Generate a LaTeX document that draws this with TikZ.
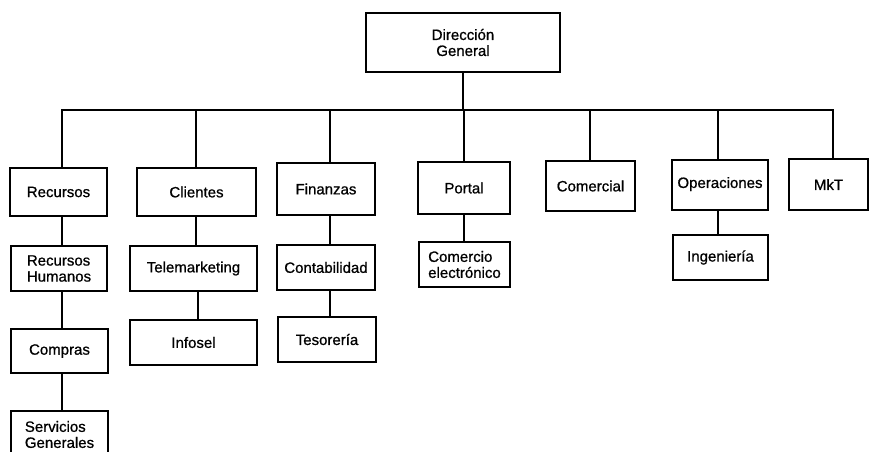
\documentclass[tikz,border=0pt]{standalone}
\usepackage{fontspec}
\setmainfont{Liberation Sans}[BoldFont=Liberation Sans,BoldFeatures={FakeBold=0.8}]
\begin{document}
\begin{tikzpicture}[x=1pt,y=-1pt,
  box/.style={draw,line width=2pt,inner sep=0pt,align=center,
    font=\fontsize{15}{16}\selectfont\bfseries},
  leftbox/.style={box,align=left},
  link/.style={line width=2pt}]
\useasboundingbox (0,0) rectangle (869,451);
\clip (0,0) rectangle (869,451);
% top
\node[box,minimum width=194,minimum height=59] (dg) at (463,42.5) {Dirección\\General};
% first level
\node[box,minimum width=97,minimum height=48]  (rec) at (58.5,192) {Recursos};
\node[box,minimum width=119,minimum height=48] (cli) at (196.5,192) {Clientes};
\node[box,minimum width=98,minimum height=52]  (fin) at (326,189) {Finanzas};
\node[box,minimum width=92,minimum height=52]  (por) at (464,188) {Portal};
\node[box,minimum width=89,minimum height=50]  (com) at (590.5,186) {Comercial};
\node[box,minimum width=96,minimum height=50]  (ope) at (720,185) {\raisebox{5pt}{Operaciones}};
\node[box,minimum width=79,minimum height=51]  (mkt) at (828.5,184.5) {MkT};
% second level
\node[leftbox,minimum width=96,minimum height=45]  (rh)  at (59,268.5) {Recursos\\Humanos};
\node[box,minimum width=127,minimum height=45] (tel) at (193.5,268.5) {Telemarketing};
\node[box,minimum width=98,minimum height=45]  (con) at (326,267.5) {Contabilidad};
\node[leftbox,minimum width=91,minimum height=45]  (cel) at (464.5,264.5) {Comercio\\electrónico};
\node[box,minimum width=95,minimum height=45]  (ing) at (720.5,257.5) {Ingeniería};
% third level
\node[box,minimum width=97,minimum height=44]  (cmp) at (59.5,351) {Compras};
\node[box,minimum width=127,minimum height=45] (inf) at (193.5,342.5) {Infosel};
\node[box,minimum width=98,minimum height=45]  (tes) at (327,339.5) {Tesorería};
% fourth level
\node[leftbox,minimum width=97,minimum height=47]  (ser) at (59.5,434.5) {Servicios\\Generales};
% bus
\coordinate (busL) at (62,110);
\coordinate (busR) at (833,110);
\draw[link,line cap=rect] (busL) -- (busR);
\draw[link] (dg.south) -- (dg.south |- busL);
\draw[link] ([xshift=3.5pt]rec.north) -- ([xshift=3.5pt]rec.north |- busL);
\draw[link] ([xshift=-0.5pt]cli.north) -- ([xshift=-0.5pt]cli.north |- busL);
\draw[link] ([xshift=4pt]fin.north) -- ([xshift=4pt]fin.north |- busL);
\draw[link] (por.north) -- (por.north |- busL);
\draw[link] ([xshift=-0.5pt]com.north) -- ([xshift=-0.5pt]com.north |- busL);
\draw[link] ([xshift=-2pt]ope.north) -- ([xshift=-2pt]ope.north |- busL);
\draw[link] ([xshift=4.5pt]mkt.north) -- ([xshift=4.5pt]mkt.north |- busL);
% sub-branches
\draw[link] ([xshift=3.5pt]rec.south) -- ([xshift=3.5pt]rec.south |- rh.north);
\draw[link] ([xshift=3pt]rh.south) -- ([xshift=3pt]rh.south |- cmp.north);
\draw[link] ([xshift=2.5pt]cmp.south) -- ([xshift=2.5pt]cmp.south |- ser.north);
\draw[link] ([xshift=-0.5pt]cli.south) -- ([xshift=-0.5pt]cli.south |- tel.north);
\draw[link] ([xshift=4.5pt]tel.south) -- ([xshift=4.5pt]tel.south |- inf.north);
\draw[link] ([xshift=4pt]fin.south) -- ([xshift=4pt]fin.south |- con.north);
\draw[link] ([xshift=4pt]con.south) -- ([xshift=4pt]con.south |- tes.north);
\draw[link] (por.south) -- (por.south |- cel.north);
\draw[link] ([xshift=-2pt]ope.south) -- ([xshift=-2pt]ope.south |- ing.north);
\end{tikzpicture}
\end{document}
